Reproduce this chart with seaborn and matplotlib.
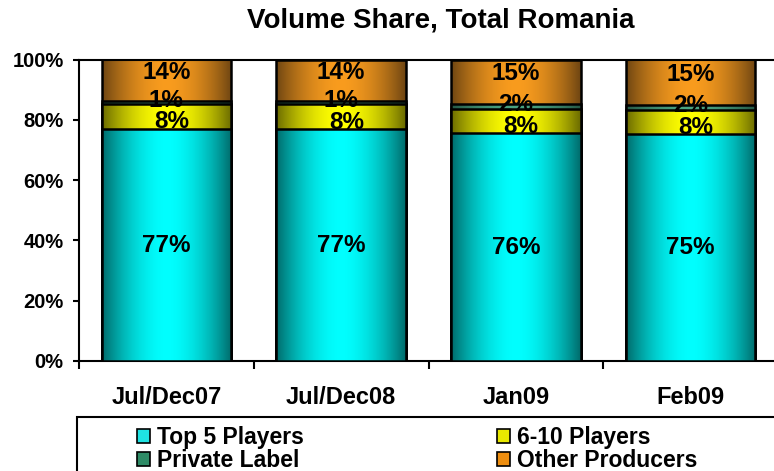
import numpy as np
import pandas as pd
import matplotlib
matplotlib.use("Agg")
import matplotlib.pyplot as plt
import seaborn as sns
from matplotlib.patches import Rectangle, Patch
from matplotlib.colors import to_rgb

# ---------------- data ----------------
categories = ["Jul/Dec07", "Jul/Dec08", "Jan09", "Feb09"]
top5 = [76.9, 76.8, 75.6, 75.4]
players_6_10 = [8.4, 8.4, 8.0, 7.9]
private_label = [0.9, 1.0, 1.8, 1.7]
other_producers = [13.8, 13.8, 14.6, 15.0]
series_names = ["Top 5 Players", "6-10 Players", "Private Label", "Other Producers"]
yticks = [0, 20, 40, 60, 80, 100]
ytick_labels = ["0%", "20%", "40%", "60%", "80%", "100%"]
title = "Volume Share, Total Romania"

# ---------------- style ----------------
sns.set_theme(style="white")
plt.rcParams['font.family'] = ['Liberation Sans', 'DejaVu Sans']
plt.rcParams['font.weight'] = 'bold'
plt.rcParams['text.color'] = 'black'

W, H = 774, 471
fig = plt.figure(figsize=(W / 100, H / 100), dpi=100)
fig.patch.set_facecolor("white")
ax_left, ax_right, ax_top, ax_bottom = 79, 778, 59.5, 361
ax = fig.add_axes([ax_left / W, 1 - ax_bottom / H, (ax_right - ax_left) / W, (ax_bottom - ax_top) / H])
ax.set_facecolor("white")

series = [top5, players_6_10, private_label, other_producers]
bright = ["#00FFFF", "#FFFF00", "#4AA483", "#F99C1E"]
dark = ["#006A6A", "#6A6A00", "#245745", "#6E4512"]
legend_colors = ["#1FE3E3", "#E8E800", "#2E8B66", "#EE8E10"]

cum = np.cumsum(np.array(series, dtype=float), axis=0)

t = np.linspace(-1, 1, 256)
f = 1 - np.abs(t) ** 1.8

def gradient(k):
    b = np.array(to_rgb(bright[k]))
    d = np.array(to_rgb(dark[k]))
    row = d[None, :] + (b - d)[None, :] * f[:, None]
    return np.repeat(row[None, :, :], 2, axis=0)

bar_width = 0.74
for k in range(3, -1, -1):
    before = len(ax.patches)
    df = pd.DataFrame({"cat": categories, "val": cum[k]})
    sns.barplot(data=df, x="cat", y="val", color=bright[k], width=bar_width,
                saturation=1, edgecolor="black", linewidth=1.8, ax=ax)
    z = 2 + 2 * (3 - k)
    for p in ax.patches[before:]:
        p.set_zorder(z + 0.5)
        p.set_facecolor("none")
        x0, y0 = p.get_x(), p.get_y()
        w, h = p.get_width(), p.get_height()
        img = ax.imshow(gradient(k), extent=[x0, x0 + w, y0, y0 + h], aspect="auto",
                        interpolation="bilinear", origin="lower", zorder=z)
        img.set_clip_path(p)

# data labels
label_dy = [0.0, -1.8, 0.6, 2.6]
label_dx = [0.0, 0.03, 0.0, 0.0]
for k in range(4):
    for i, cat in enumerate(categories):
        v = series[k][i]
        y = cum[k][i] - v / 2 + label_dy[k]
        ax.text(i + label_dx[k], y, f"{round(v):.0f}%", ha="center", va="center",
                fontsize=17.5, fontweight="bold", color="black", zorder=20)

ax.set_xlim(-0.5, len(categories) - 0.5)
ax.set_ylim(0, 100)
ax.set_xlabel("")
ax.set_ylabel("")
ax.set_yticks(yticks)
ax.set_yticklabels(ytick_labels)
ax.set_xticks(range(len(categories)))
ax.set_xticklabels(categories)
ax.set_xticks([i - 0.5 for i in range(len(categories))], minor=True)
ax.tick_params(axis="y", left=True, direction="out", length=4.5, width=1.5,
               pad=6.5, labelsize=14.5, colors="black")
ax.tick_params(axis="x", which="major", bottom=True, length=0, pad=18, labelsize=17,
               labelcolor="black")
ax.tick_params(axis="x", which="minor", bottom=True, direction="out", length=6,
               width=1.5, color="black")
for lab in ax.get_xticklabels() + ax.get_yticklabels():
    lab.set_fontweight("bold")
ax.grid(False)
for side in ["left", "bottom", "top"]:
    ax.spines[side].set_visible(True)
    ax.spines[side].set_color("black")
    ax.spines[side].set_linewidth(1.5)
ax.spines["right"].set_visible(False)

# title
fig.text(441 / W, 1 - 21 / H, title, ha="center", va="center",
         fontsize=20, fontweight="bold", color="black")

# legend frame
fig.patches.append(Rectangle((77 / W, -0.2), 1.0, (H - 417) / H + 0.2,
                             transform=fig.transFigure, fill=False,
                             edgecolor="black", linewidth=1.5))

order = [0, 2, 1, 3]
handles = [Patch(facecolor=legend_colors[k], edgecolor="black", linewidth=1.2,
                 label=series_names[k]) for k in order]
fig.legend(handles=handles, ncol=2, loc="upper left",
           bbox_to_anchor=(137 / W, 1 - 426 / H), frameon=False,
           prop={"size": 16.5, "weight": "bold"}, labelcolor="black",
           handlelength=0.58, handleheight=0.58,
           handletextpad=0.3, columnspacing=8.4, labelspacing=0.0,
           borderpad=0, borderaxespad=0)

fig.savefig("out.png", dpi=100)
